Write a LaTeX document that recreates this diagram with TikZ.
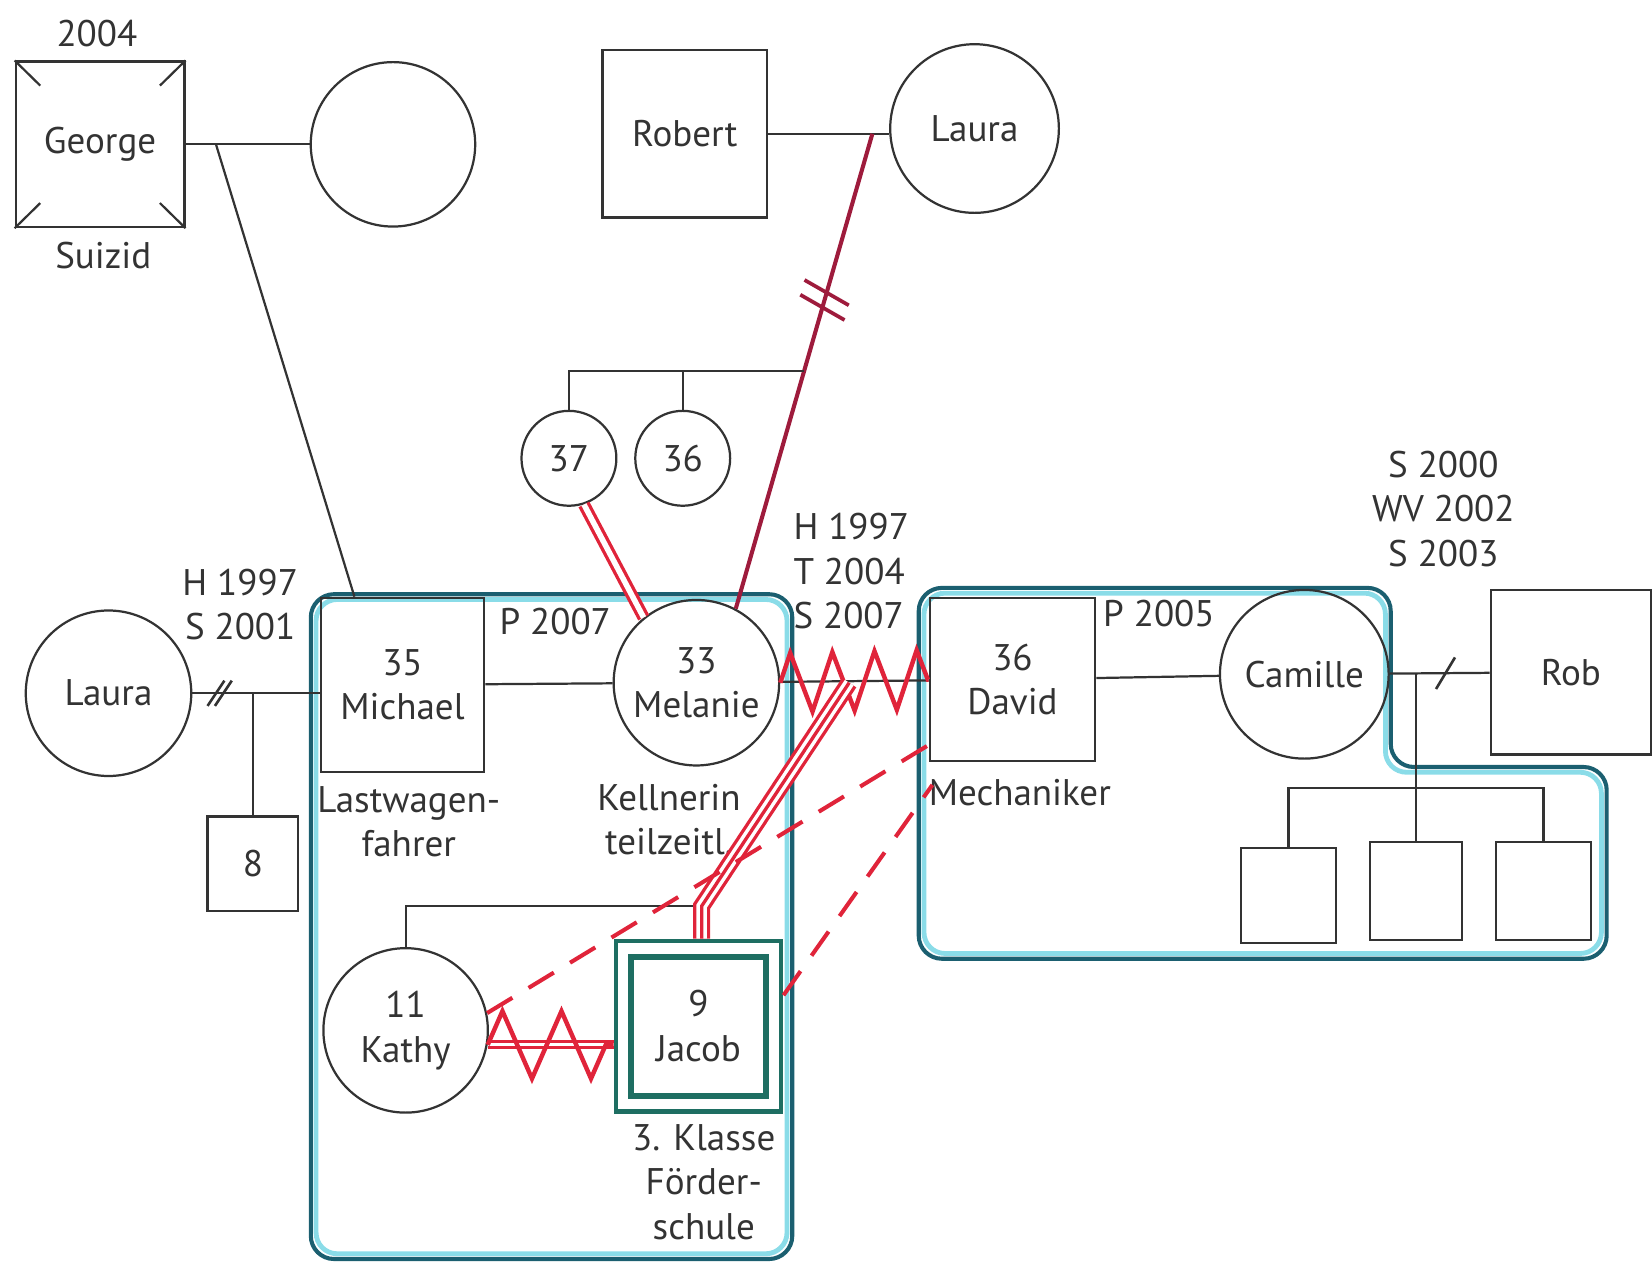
\documentclass[tikz,border=0pt]{standalone}
\usepackage{fontspec}
\setmainfont{PT Sans}
\usetikzlibrary{calc,positioning,decorations.pathmorphing}
\definecolor{linie}{HTML}{333333}
\definecolor{rot}{HTML}{E0243A}
\definecolor{dunkelrot}{HTML}{9E1B3C}
\definecolor{petrol}{HTML}{1B5F70}
\definecolor{tuerkis}{HTML}{8ADCE8}
\definecolor{jacobgruen}{HTML}{1E6E62}

\tikzset{
  mann/.style={draw=linie, line width=0.6pt, inner sep=0pt, align=center},
  frau/.style={draw=linie, line width=0.6pt, circle, inner sep=0pt, align=center},
  beschr/.style={align=center, inner sep=0pt},
  beziehung/.style={draw=linie, line width=0.6pt},
  haushalt/.style={draw=petrol, line width=1.1pt},
  haushaltinnen/.style={draw=tuerkis, line width=1.3pt},
  feindlich/.style={draw=rot, line width=1.2pt, decorate},
  nah/.style={draw=rot, line width=0.9pt, double=white, double distance=1.5pt},
  distanziert/.style={draw=rot, line width=1.1pt, dash pattern=on 2.8mm off 1.8mm},
  verschmolzen/.style={draw=rot, line width=4.6pt,
    postaction={draw=white, line width=2.8pt},
    postaction={draw=rot, line width=0.9pt}}
}

\begin{document}
\begin{tikzpicture}[x=0.01cm, y=-0.01cm, font=\fontsize{10}{12}\selectfont, text=linie]
\useasboundingbox (0,0) rectangle (1568,1200);

% Haushalte
\draw[haushaltinnen, rounded corners=2mm] (300,569) rectangle (747,1190);
\draw[haushalt, rounded corners=2.2mm] (295,564) rectangle (752,1195);
\draw[haushaltinnen, rounded corners=2mm] (877,563) -- (1315,563) -- (1315,733) -- (1520,733) -- (1520,905) -- (877,905) -- cycle;
\draw[haushalt, rounded corners=2.2mm] (872,558) -- (1320,558) -- (1320,728) -- (1525,728) -- (1525,910) -- (872,910) -- cycle;

% Grosseltern
\node[mann, minimum width=1.6cm, minimum height=1.57cm] (george) at (95,137) {George};
\foreach \ecke in {north west, north east, south west, south east}
  \draw[beziehung] (george.\ecke) -- ($(george.\ecke)!0.3!(george.center)$);
\node[beschr] (gtod) at (92,32) {2004};
\node[beschr] (gsuizid) at (98,243) {Suizid};
\node[frau, minimum size=1.56cm] (georgefrau) at (373,137) {};
\draw[beziehung] (george) -- (georgefrau);
\coordinate (gm) at (205,137);

\node[mann, minimum width=1.56cm, minimum height=1.59cm] (robert) at (650,127) {Robert};
\node[frau, minimum size=1.6cm] (laurao) at (925,122) {Laura};
\draw[beziehung] (robert.east) -- (robert.east -| laurao.west);
\coordinate (rl) at (828,127);

% Eltern
\node[frau, minimum size=1.57cm] (laurax) at (103,658) {Laura};
\node[mann, minimum width=1.55cm, minimum height=1.65cm] (michael) at (382,650) {35\\Michael};
\node[frau, minimum size=1.57cm] (melanie) at (661,648) {33\\Melanie};
\node[mann, minimum width=1.57cm, minimum height=1.55cm] (david) at (961,645) {36\\David};
\node[frau, minimum size=1.6cm] (camille) at (1238,640) {Camille};
\node[mann, minimum width=1.52cm, minimum height=1.56cm] (rob) at (1491,638) {Rob};

\node[beschr] (ehe1) at (228,574) {H 1997\\S 2001};
\node[beschr] (paar1) at (527,590) {P 2007};
\node[beschr, align=left] (ehe2) at (808,542) {H 1997\\T 2004\\S 2007};
\node[beschr] (paar2) at (1100,582) {P 2005};
\node[beschr] (ehe3) at (1370,483) {S 2000\\WV 2002\\S 2003};
\node[beschr] (beruf1) at (388,780) {Lastwagen-\\fahrer};
\node[beschr] (beruf2) at (635,778) {Kellnerin\\teilzeitl.};
\node[beschr] (beruf3) at (968,752) {Mechaniker};

\draw[beziehung] (gm) -- ($(michael.north west)!0.21!(michael.north east)$);
\draw[beziehung] (laurax) -- (laurax -| michael.west);
\foreach \dx in {-4,3}
  \draw[beziehung, line width=0.7pt] ($(209,658)+(\dx-8,12)$) -- ($(209,658)+(\dx+8,-12)$);
\draw[beziehung] (michael) -- (melanie);
\draw[beziehung] (melanie) -- (david);
\draw[feindlich, decoration={zigzag, segment length=4mm, amplitude=2.8mm}] (melanie.east) -- (david.west);
\draw[beziehung] (david) -- (camille);
\draw[beziehung] (camille) -- (rob);
\draw[beziehung, line width=0.7pt] (1363,654) -- (1381,624);

% Geschwister von Melanie
\node[frau, minimum size=0.9cm] (schw37) at (540,435) {37};
\node[frau, minimum size=0.9cm] (schw36) at (648,435) {36};
\draw[dunkelrot, line width=1.1pt] (rl) -- (melanie.62)
  coordinate[pos=0.5] (geschw) coordinate[pos=0.35] (cut);
\draw[dunkelrot, line width=1pt] ($(cut)+(-19,-19)$) -- ($(cut)+(23,5)$);
\draw[dunkelrot, line width=1pt] ($(cut)+(-23,-5)$) -- ($(cut)+(19,19)$);
\draw[beziehung] (geschw) -| (schw37.north);
\draw[beziehung] (schw36.north) -- (schw36.north |- geschw);
\draw[nah] (schw37.-72) -- (melanie.129);

% Kinder
\node[mann, minimum width=0.86cm, minimum height=0.9cm] (sohn) at (240,820) {8};
\draw[beziehung] (sohn.north) -- (sohn.north |- laurax);

\node[frau, minimum size=1.56cm] (kathy) at (385,978) {11\\Kathy};
\node[draw=jacobgruen, line width=1.2pt, minimum width=1.57cm, minimum height=1.62cm] (jacob) at (663,974) {};
\node[draw=jacobgruen, line width=1.6pt, minimum width=1.28cm, minimum height=1.32cm, align=center, inner sep=0pt] (jacobinnen) at (jacob.center) {9\\Jacob};
\node[beschr] (schule) at (668,1122) {3. Klasse\\Förder-\\schule};

\coordinate (md) at (806,648);
\coordinate (jknick) at (666,860);
\draw[beziehung] (kathy.north) |- (jknick);
\draw[verschmolzen] (md) -- (jknick) -- (jknick |- jacob.north);

\draw[nah, line width=0.8pt, double distance=0.8pt] (kathy.-10) -- (kathy.-10 -| jacob.west);
\draw[feindlich, decoration={zigzag, segment length=5.6mm, amplitude=3.2mm}] (kathy.-10) -- (kathy.-10 -| jacob.west);

\coordinate (dv1) at (880,708);
\coordinate (dv2) at (885,745);
\draw[distanziert] (kathy.12) -- (dv1);
\draw[distanziert] (jacob.20) -- (dv2);

% Kinder von Camille und Rob
\node[mann, minimum width=0.9cm, minimum height=0.9cm] (kind1) at (1223,850) {};
\node[mann, minimum width=0.88cm, minimum height=0.93cm] (kind2) at (1344,846) {};
\node[mann, minimum width=0.9cm, minimum height=0.93cm] (kind3) at (1465,846) {};
\coordinate (cr) at (1344,640);
\coordinate (kbar) at (1223,748);
\draw[beziehung] (cr) -- (kind2.north);
\draw[beziehung] (kind1.north) -- (kind1.north |- kbar) -| (kind3.north);
\end{tikzpicture}
\end{document}
